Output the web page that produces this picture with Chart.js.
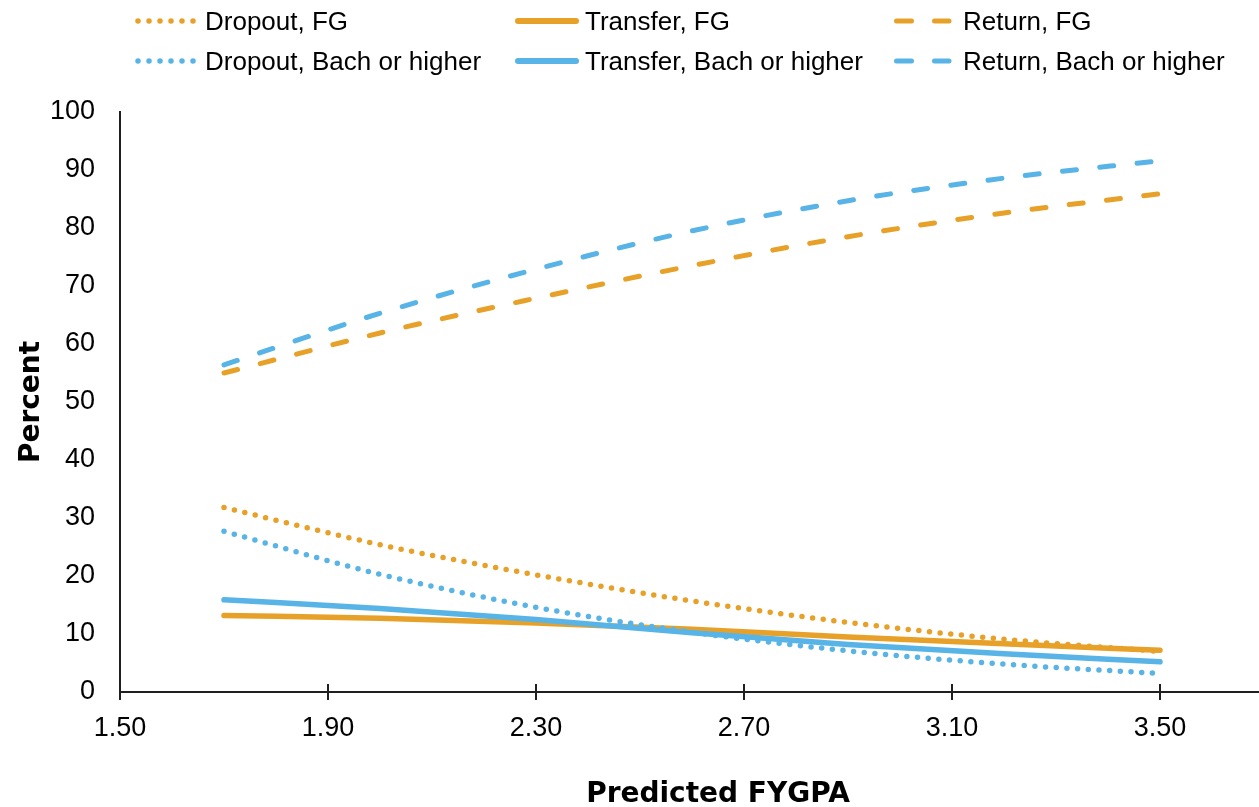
<!DOCTYPE html>
<html><head><meta charset="utf-8">
<script src="https://cdn.jsdelivr.net/npm/chart.js@4.4.1/dist/chart.umd.min.js"></script>
<style>
html,body{margin:0;padding:0;background:#fff;overflow:hidden;}
#wrap{position:relative;width:1259px;height:807px;overflow:hidden;background:#fff;}
#c{position:absolute;left:0;top:0;}
#legend{position:absolute;left:0;top:0;width:1259px;height:90px;font-family:"Liberation Sans",Arial,sans-serif;font-size:26px;color:#000;}
.item{position:absolute;height:40px;display:flex;align-items:center;}
.item svg{width:72px;height:40px;flex:none;display:block;}
.item span{white-space:nowrap;line-height:40px;}
</style></head><body>
<div id="wrap"><canvas id="c" width="1320" height="807"></canvas><div id="legend"></div></div>
<script>
// ---- data ----
const gpa = [1.7, 2.0, 2.3, 2.6, 2.9, 3.2, 3.5];
const dropoutFG    = [31.8, 25.4, 20.2, 15.7, 12.0, 9.1, 7.0];
const transferFG   = [13.2, 12.7, 11.9, 10.8, 9.5, 8.3, 7.2];
const returnFG     = [55.0, 61.9, 67.9, 73.5, 78.5, 82.6, 85.9];
const dropoutBach  = [27.7, 20.3, 14.6, 10.3, 7.1, 4.8, 3.2];
const transferBach = [15.9, 14.4, 12.5, 10.2, 8.2, 6.6, 5.2];
const returnBach   = [56.4, 65.3, 72.9, 79.5, 84.7, 88.6, 91.6];
const seriesLabels = ['Dropout, FG','Transfer, FG','Return, FG','Dropout, Bach or higher','Transfer, Bach or higher','Return, Bach or higher'];
const xTicks = [1.5, 1.9, 2.3, 2.7, 3.1, 3.5];
const yTicks = [0, 10, 20, 30, 40, 50, 60, 70, 80, 90, 100];

const ORANGE = '#E8A128', BLUE = '#58B4E6', AX = '#1f1f1f';
const FONT = '"Liberation Sans", Arial, sans-serif';
const TFONT = '"DejaVu Sans", "Liberation Sans", sans-serif';

const STY = {
  dotted: {borderWidth: 5.5, borderDash: [0, 10.7], borderCapStyle: 'round'},
  solid:  {borderWidth: 5.5, borderDash: [], borderCapStyle: 'round'},
  dashed: {borderWidth: 5, borderDash: [14, 23.5], borderCapStyle: 'round'}
};
function pts(arr){ return gpa.map((x,i)=>({x:x, y:arr[i]})); }
function ds(i, arr, color, kind, order){
  return Object.assign({label: seriesLabels[i], data: pts(arr), borderColor: color, backgroundColor: color,
    pointRadius: 0, pointHoverRadius: 0, fill: false, cubicInterpolationMode: 'monotone',
    borderJoinStyle: 'round', order: order, kind: kind}, STY[kind]);
}
const datasets = [
  ds(0, dropoutFG, ORANGE, 'dotted', 1),
  ds(1, transferFG, ORANGE, 'solid', 3),
  ds(2, returnFG, ORANGE, 'dashed', 5),
  ds(3, dropoutBach, BLUE, 'dotted', 0),
  ds(4, transferBach, BLUE, 'solid', 2),
  ds(5, returnBach, BLUE, 'dashed', 4)
];

const tickUp = {id:'tickUp', afterDatasetsDraw(chart){
  const s = chart.scales.x, ctx = chart.ctx;
  ctx.save(); ctx.strokeStyle = AX; ctx.lineWidth = 2;
  s.ticks.forEach(t=>{ const px = s.getPixelForValue(t.value);
    ctx.beginPath(); ctx.moveTo(px, s.top); ctx.lineTo(px, s.top - 8); ctx.stroke(); });
  ctx.restore();
}};

const chart = new Chart(document.getElementById('c'), {
  type: 'line',
  data: {datasets: datasets},
  plugins: [tickUp],
  options: {
    responsive: false, animation: false, devicePixelRatio: 1,
    layout: {padding: {top: 112, left: 0, right: 4, bottom: 0}},
    plugins: {legend: {display: false}, tooltip: {enabled: false}},
    scales: {
      x: {type: 'linear', min: 1.5, max: 3.8,
        afterBuildTicks: s => { s.ticks = xTicks.map(v => ({value: v})); },
        afterFit: s => { s.height = 115; },
        grid: {display: true, drawOnChartArea: false, drawTicks: true, tickLength: 8, color: AX, lineWidth: 2},
        border: {display: true, color: AX, width: 2},
        ticks: {color: '#000', font: {family: FONT, size: 27}, padding: 12, maxRotation: 0, autoSkip: false,
          callback: v => Number(v).toFixed(2)},
        title: {display: true, text: 'Predicted FYGPA', color: '#000',
          font: {family: TFONT, size: 28, weight: 'bold', lineHeight: 0.85}, padding: {top: 0, bottom: 0}}
      },
      y: {min: 0, max: 100,
        afterBuildTicks: s => { s.ticks = yTicks.map(v => ({value: v})); },
        afterFit: s => { s.width = 120; },
        grid: {display: false, drawTicks: false},
        border: {display: true, color: AX, width: 2},
        ticks: {color: '#000', font: {family: FONT, size: 27}, padding: 25},
        title: {display: true, text: 'Percent', color: '#000',
          font: {family: TFONT, size: 28, weight: 'bold', lineHeight: 1}, padding: {top: 18, bottom: 0}}
      }
    }
  }
});

// ---- legend (HTML, built from the datasets) ----
const colX = [133, 513, 891], rowY = [21, 61];
const LEG = {
  dotted: {x1: 5, x2: 61, w: 5.5, dash: '0 11'},
  solid:  {x1: 5, x2: 63, w: 6, dash: ''},
  dashed: {x1: 5.5, x2: 58, w: 5, dash: '15 23'}
};
const legEl = document.getElementById('legend');
chart.data.datasets.forEach((d, i) => {
  const col = i % 3, row = Math.floor(i / 3), L = LEG[d.kind];
  const it = document.createElement('div');
  it.className = 'item';
  it.style.left = colX[col] + 'px';
  it.style.top = (rowY[row] - 20) + 'px';
  it.innerHTML = '<svg viewBox="0 0 72 40"><line x1="' + L.x1 + '" y1="20" x2="' + L.x2 + '" y2="20" stroke="' + d.borderColor +
    '" stroke-width="' + L.w + '" stroke-linecap="round"' + (L.dash ? ' stroke-dasharray="' + L.dash + '"' : '') + '/></svg><span>' + d.label + '</span>';
  legEl.appendChild(it);
});
</script>
</body></html>
